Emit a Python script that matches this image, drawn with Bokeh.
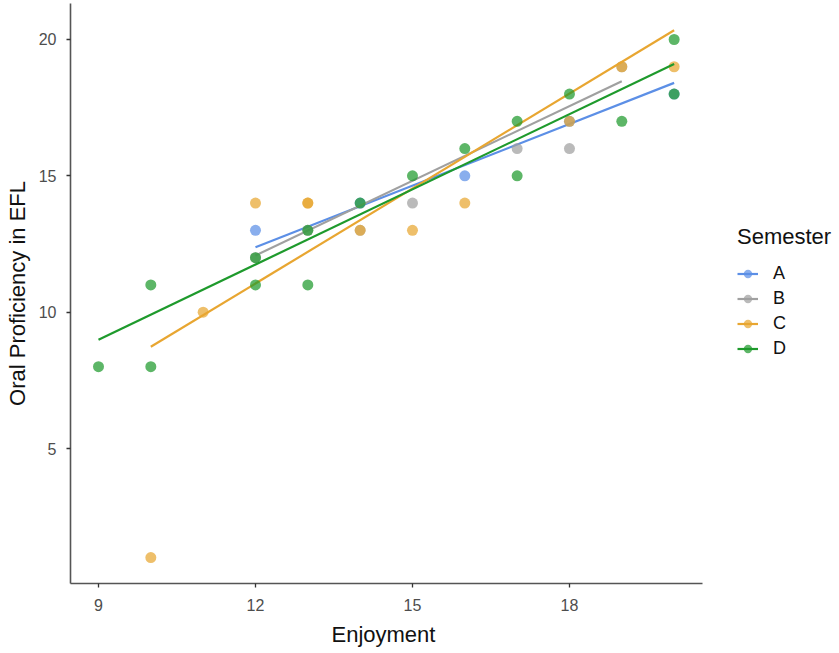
from bokeh.plotting import figure
from bokeh.models import Range1d, FixedTicker, Legend, LegendItem, ColumnDataSource, Title
from bokeh.embed import file_html
from bokeh.resources import INLINE

# ---- data ----
groups = ["A", "B", "C", "D"]
colors = ["#5C8FE6", "#A0A0A0", "#E8A631", "#1E9A2C"]

A_x = [12, 14, 16, 18, 20]
A_y = [13, 14, 15, 17, 18]
B_x = [12, 13, 14, 15, 17, 18, 19]
B_y = [12, 13, 13, 14, 16, 16, 19]
C_x = [10, 11, 12, 13, 13, 14, 15, 16, 18, 19, 20]
C_y = [1, 10, 14, 14, 14, 13, 13, 14, 17, 19, 19]
D_x = [9, 10, 10, 12, 12, 13, 13, 14, 15, 16, 17, 17, 18, 19, 20, 20]
D_y = [8, 11, 8, 12, 11, 11, 13, 14, 15, 16, 17, 15, 18, 17, 20, 18]

# fitted regression lines (start / end), per group
fit_x_start = [12, 12, 10, 9]
fit_x_end = [20, 19, 20, 20]
fit_y_start = [12.38, 12.08, 8.73, 8.99]
fit_y_end = [18.41, 18.47, 20.34, 19.10]

x_ticks = [9, 12, 15, 18]
y_ticks = [5, 10, 15, 20]
x_axis_extent = (8.465, 20.54)

points = {"A": (A_x, A_y), "B": (B_x, B_y), "C": (C_x, C_y), "D": (D_x, D_y)}

FONT = "Liberation Sans"

# frame extends to the right so the legend can sit inside it; the x axis
# itself is bounded to the data panel extent
p = figure(width=839, height=653, output_backend="svg", toolbar_location=None,
           x_range=Range1d(8.465, 23.16), y_range=Range1d(0.05, 21.32),
           min_border_left=70, min_border_right=0, min_border_top=3,
           min_border_bottom=70)
p.outline_line_color = None
p.xgrid.visible = False
p.ygrid.visible = False
p.background_fill_color = "white"
p.border_fill_color = "white"

for ax in (p.xaxis[0], p.yaxis[0]):
    ax.axis_line_color = "#555555"
    ax.axis_line_width = 1.6
    ax.major_tick_line_color = "#333333"
    ax.major_tick_line_width = 1.3
    ax.major_tick_out = 4
    ax.major_tick_in = 0
    ax.minor_tick_line_color = None
    ax.major_label_text_font = FONT
    ax.major_label_text_font_size = "16px"
    ax.major_label_text_color = "#4D4D4D"
    ax.axis_label_text_font = FONT
    ax.axis_label_text_font_size = "22px"
    ax.axis_label_text_font_style = "normal"
    ax.axis_label_text_color = "#111111"

p.xaxis.bounds = x_axis_extent
p.xaxis.ticker = FixedTicker(ticks=x_ticks)
p.yaxis.ticker = FixedTicker(ticks=y_ticks)
p.yaxis.axis_label = "Oral Proficiency in EFL"
p.xaxis.major_label_standoff = 11
p.yaxis.major_label_standoff = 10
p.yaxis.axis_label_standoff = 6

# x-axis title centred under the data panel (not the extended frame)
xtitle = Title(text="Enjoyment", align="left", offset=261, standoff=13,
               text_font=FONT, text_font_size="22px", text_font_style="normal",
               text_color="#111111")
p.add_layout(xtitle, "below")

items = []
for i, g in enumerate(groups):
    xs, ys = points[g]
    src = ColumnDataSource(dict(x=xs, y=ys))
    sr = p.scatter("x", "y", source=src, size=11, fill_color=colors[i],
                   fill_alpha=0.72, line_color=None)
    lsrc = ColumnDataSource(dict(x=[fit_x_start[i], fit_x_end[i]],
                                 y=[fit_y_start[i], fit_y_end[i]]))
    lr = p.line("x", "y", source=lsrc, line_color=colors[i], line_width=2.2)
    items.append(LegendItem(label=g, renderers=[lr, sr]))

legend = Legend(items=items, location=(667, 222))
legend.title = "Semester"
legend.title_text_font = FONT
legend.title_text_font_size = "22px"
legend.title_text_font_style = "normal"
legend.title_text_color = "#111111"
legend.title_standoff = 11
legend.label_text_font = FONT
legend.label_text_font_size = "18px"
legend.label_text_color = "#111111"
legend.label_standoff = 15
legend.label_height = 25
legend.glyph_height = 25
legend.glyph_width = 21
legend.spacing = 0
legend.padding = 2
legend.margin = 0
legend.border_line_color = None
legend.background_fill_alpha = 0
p.add_layout(legend, "center")

open("out.html", "w").write(file_html(p, INLINE))
